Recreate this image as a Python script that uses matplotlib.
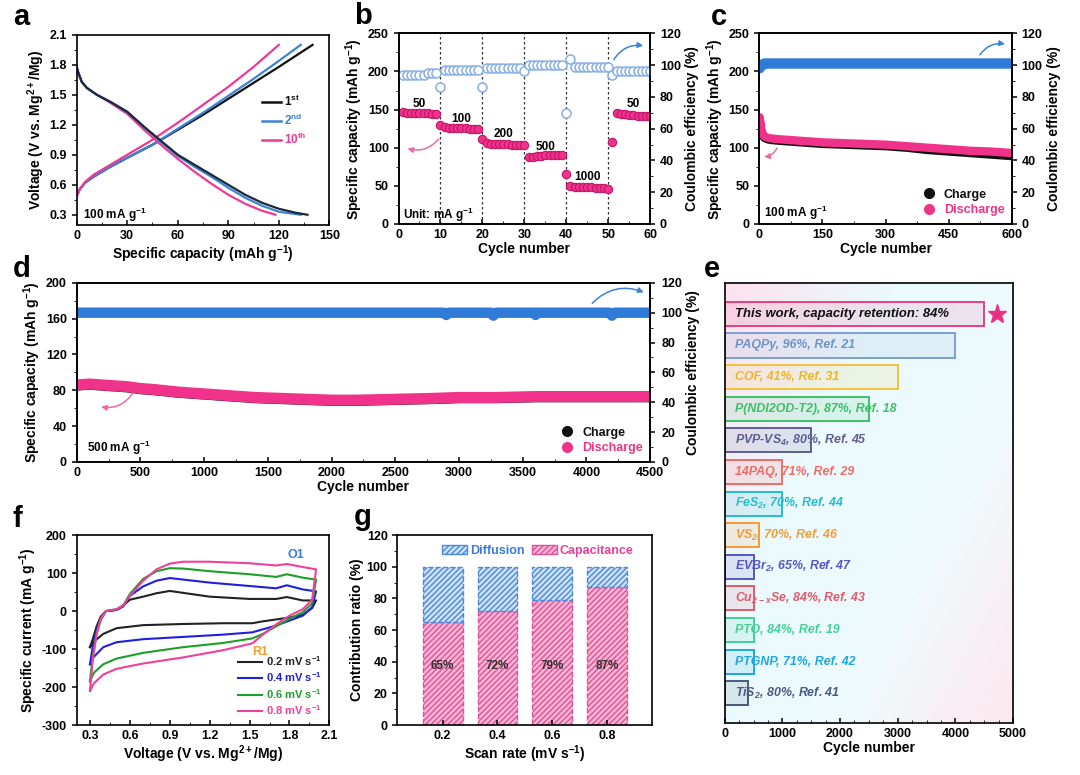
import numpy as np
import matplotlib
matplotlib.use('Agg')
import matplotlib.pyplot as plt
from matplotlib.colors import LinearSegmentedColormap
from matplotlib.lines import Line2D
from matplotlib.patches import Patch
from matplotlib.ticker import AutoMinorLocator

plt.rcParams['font.family'] = ['Liberation Sans', 'DejaVu Sans']
plt.rcParams['font.weight'] = 'bold'
plt.rcParams['axes.labelweight'] = 'bold'
plt.rcParams['mathtext.default'] = 'regular'
plt.rcParams['axes.unicode_minus'] = False
plt.rcParams['axes.linewidth'] = 1.2
plt.rcParams['xtick.labelsize'] = 9
plt.rcParams['ytick.labelsize'] = 9
plt.rcParams['axes.labelsize'] = 10
plt.rcParams['xtick.direction'] = 'in'
plt.rcParams['ytick.direction'] = 'out'
plt.rcParams['xtick.major.width'] = 1.1
plt.rcParams['ytick.major.width'] = 1.1
plt.rcParams['xtick.major.size'] = 3.5
plt.rcParams['ytick.major.size'] = 3.5
plt.rcParams['xtick.minor.size'] = 2
plt.rcParams['ytick.minor.size'] = 2

PINK = '#f0328a'
BLUE = '#2f7bd8'

# ---------- a: galvanostatic curves ----------
cap_chg_1 = [0, 2, 5, 10, 20, 30, 45, 60, 75, 90, 105, 120, 140]
v_chg_1 = [0.50, 0.56, 0.62, 0.68, 0.78, 0.87, 1.00, 1.15, 1.30, 1.46, 1.62, 1.78, 2.00]
cap_chg_2 = [0, 2, 5, 10, 20, 30, 45, 60, 75, 90, 105, 120, 133]
v_chg_2 = [0.50, 0.56, 0.62, 0.68, 0.78, 0.87, 1.00, 1.16, 1.32, 1.49, 1.66, 1.84, 2.00]
cap_chg_10 = [0, 2, 5, 10, 20, 30, 44, 60, 75, 90, 105, 120]
v_chg_10 = [0.48, 0.56, 0.63, 0.70, 0.80, 0.90, 1.04, 1.22, 1.40, 1.58, 1.78, 2.00]
cap_dis_1 = [0, 1, 3, 6, 12, 20, 30, 40, 50, 60, 70, 80, 90, 100, 110, 120, 130, 137]
v_dis_1 = [1.78, 1.72, 1.63, 1.57, 1.50, 1.43, 1.33, 1.18, 1.04, 0.90, 0.80, 0.70, 0.60, 0.50, 0.42, 0.36, 0.32, 0.30]
cap_dis_2 = [0, 1, 3, 6, 12, 20, 30, 40, 50, 60, 70, 80, 90, 100, 110, 120, 133]
v_dis_2 = [1.78, 1.72, 1.63, 1.57, 1.50, 1.43, 1.33, 1.18, 1.03, 0.89, 0.78, 0.68, 0.57, 0.47, 0.39, 0.33, 0.30]
cap_dis_10 = [0, 1, 3, 6, 12, 20, 30, 40, 50, 60, 70, 80, 90, 100, 110, 118]
v_dis_10 = [1.78, 1.72, 1.63, 1.57, 1.50, 1.42, 1.31, 1.15, 1.00, 0.86, 0.73, 0.61, 0.50, 0.41, 0.34, 0.30]

# ---------- b: rate performance ----------
cycles_b = list(range(1, 61))
cap_b = [147, 146, 146, 145, 145, 145, 145, 144, 144, 130,
         127, 126, 126, 126, 126, 126, 125, 125, 125, 112,
         106, 105, 105, 105, 105, 105, 104, 104, 104, 103,
         88, 88, 89, 89, 90, 90, 90, 91, 91, 65,
         50, 49, 49, 48, 48, 48, 47, 47, 47, 46,
         107, 145, 144, 144, 143, 143, 142, 142, 141, 141]
ce_b = [94, 94, 94, 94, 94, 94, 95, 95, 95, 86,
        97, 97, 97, 97, 97, 97, 97, 97, 97, 86,
        98, 98, 98, 98, 98, 98, 98, 98, 98, 96,
        100, 100, 100, 100, 100, 100, 100, 100, 100, 70,
        104, 99, 99, 99, 99, 99, 99, 99, 99, 99,
        94, 96, 96, 96, 96, 96, 96, 96, 96, 96]
rate_labels = ['50', '100', '200', '500', '1000', '50']
rate_label_x = [5, 15, 25, 35, 45, 56]
rate_label_y = [157, 138, 118, 101, 61, 157]

# ---------- c: cycling at 100 mA/g ----------
cycles_c = [1, 3, 5, 8, 12, 20, 30, 50, 75, 100, 150, 200, 250, 300, 350, 400, 450, 500, 550, 600]
dis_c = [140, 132, 124, 118, 115, 113, 112, 111, 110, 109, 107, 106, 105, 104, 102, 100, 98, 96, 95, 93]
chg_c = [137, 129, 121, 116, 113, 111, 110, 109, 108, 107, 105, 104, 103, 102, 100, 97, 95, 93, 91, 89]
ce_c = [98, 99, 100, 100, 101, 101, 101, 101, 101, 101, 101, 101, 101, 101, 101, 101, 101, 101, 101, 101]

# ---------- d: cycling at 500 mA/g ----------
cycles_d = [1, 100, 200, 300, 400, 500, 600, 800, 1000, 1200, 1400, 1600, 1800, 2000,
            2200, 2500, 2800, 3000, 3300, 3600, 4000, 4300, 4500]
dis_d = [86, 87, 86, 85, 84, 82, 81, 78, 76, 74, 72, 71, 70, 69, 69, 70, 71, 72, 72, 73, 73, 73, 73]
chg_d = [85, 86, 85, 84, 83, 81, 80, 77, 75, 73, 71, 70, 69, 68, 68, 69, 70, 71, 71, 72, 72, 72, 72]
cycles_ce_d = [1, 500, 1000, 1500, 2000, 2500, 2880, 2900, 2920, 3000, 3250, 3270, 3290, 3500,
               3590, 3600, 3610, 4000, 4180, 4200, 4220, 4500]
ce_d = [100, 100, 100, 100, 100, 100, 100, 98.5, 100, 100, 100, 98, 100, 100,
        100, 98.5, 100, 100, 100, 98, 100, 100]

# ---------- e: comparison ----------
e_labels = ['This work, capacity retention: 84%', 'PAQPy, 96%, Ref. 21', 'COF, 41%, Ref. 31',
            'P(NDI2OD-T2), 87%, Ref. 18', 'PVP-VS$_4$, 80%, Ref. 45', '14PAQ, 71%, Ref. 29',
            'FeS$_2$, 70%, Ref. 44', 'VS$_2$, 70%, Ref. 46', 'EVBr$_2$, 65%, Ref. 47',
            'Cu$_{2-x}$Se, 84%, Ref. 43', 'PTO, 84%, Ref. 19', 'PTGNP, 71%, Ref. 42',
            'TiS$_2$, 80%, Ref. 41']
e_cycles = [4500, 4000, 3000, 2500, 1500, 1000, 1000, 600, 500, 500, 500, 500, 400]
e_colors = ['#e8407f', '#7d9fd0', '#f5c23c', '#3fbf6a', '#5e5e90', '#f06a6a', '#25bccc',
            '#f59a35', '#5656c4', '#e05a6c', '#45d09a', '#1ea6e0', '#4a5a80']
e_text_colors = ['#111111', '#6f95c8', '#f0b428', '#3fbf6a', '#5e5e90', '#f06a6a', '#25bccc',
                 '#f59a35', '#5656c4', '#e05a6c', '#45d09a', '#1ea6e0', '#4a5a80']

# ---------- f: CV ----------
v_up = [0.30, 0.32, 0.35, 0.38, 0.42, 0.50, 0.55, 0.60, 0.70, 0.80, 0.90, 1.00, 1.20, 1.50, 1.70, 1.78, 1.90, 2.00]
v_down = [2.00, 1.97, 1.90, 1.80, 1.70, 1.60, 1.52, 1.30, 1.00, 0.70, 0.50, 0.40, 0.33, 0.30]
i_up_02 = [-95, -75, -40, -15, 0, 3, 15, 30, 38, 47, 53, 48, 38, 32, 32, 37, 28, 28]
i_dn_02 = [28, 8, -10, -17, -22, -27, -32, -32, -34, -37, -45, -60, -80, -95]
i_up_04 = [-140, -95, -50, -20, 0, 3, 12, 40, 65, 80, 87, 83, 75, 66, 60, 68, 57, 52]
i_dn_04 = [52, 10, -12, -25, -38, -48, -56, -62, -68, -74, -82, -95, -120, -140]
i_up_06 = [-185, -120, -60, -25, 0, 5, 15, 45, 85, 105, 113, 112, 105, 97, 90, 97, 88, 83]
i_dn_06 = [83, 20, -3, -20, -40, -60, -72, -84, -95, -110, -125, -140, -162, -185]
i_up_08 = [-210, -130, -60, -20, 0, 5, 15, 40, 80, 110, 125, 130, 130, 126, 120, 124, 116, 110]
i_dn_08 = [110, 30, 5, -12, -35, -62, -85, -103, -122, -138, -152, -167, -190, -210]
cv_labels = ['0.2 mV s$^{-1}$', '0.4 mV s$^{-1}$', '0.6 mV s$^{-1}$', '0.8 mV s$^{-1}$']
cv_colors = ['#222222', '#1f1fe0', '#1e9e2a', '#f0409a']

# ---------- g: contribution ----------
scan_rates = [0.2, 0.4, 0.6, 0.8]
capacitance = [65, 72, 79, 87]
diffusion = [35, 28, 21, 13]


def style_axes(ax):
    ax.xaxis.set_minor_locator(AutoMinorLocator(2))
    ax.yaxis.set_minor_locator(AutoMinorLocator(2))
    for lab in ax.get_xticklabels() + ax.get_yticklabels():
        lab.set_fontweight('bold')


def arrow(ax, xy, xytext, color):
    ax.annotate('', xy=xy, xytext=xytext,
                arrowprops=dict(arrowstyle='-|>', color=color, lw=1.1,
                                connectionstyle='arc3,rad=-0.35', mutation_scale=8))


def charge_legend(ax):
    handles = [Line2D([], [], ls='', marker='o', ms=7, color='#111111'),
               Line2D([], [], ls='', marker='o', ms=7, color=PINK)]
    leg = ax.legend(handles, ['Charge', 'Discharge'], loc='lower right', frameon=False,
                    fontsize=9, handletextpad=0.2, labelspacing=0.3, borderaxespad=0.2)
    for t, c in zip(leg.get_texts(), ['#111111', PINK]):
        t.set_color(c)


fig = plt.figure(figsize=(10.8, 7.75), dpi=100)

# panel a
ax = fig.add_axes([0.071, 0.710, 0.234, 0.245])
ax.plot(cap_chg_1, v_chg_1, color='#111111', lw=1.6)
ax.plot(cap_chg_2, v_chg_2, color='#3b83d6', lw=1.6)
ax.plot(cap_chg_10, v_chg_10, color='#ec3a95', lw=1.6)
ax.plot(cap_dis_10, v_dis_10, color='#ec3a95', lw=1.6)
ax.plot(cap_dis_2, v_dis_2, color='#3b83d6', lw=1.6)
ax.plot(cap_dis_1, v_dis_1, color='#1a2a3a', lw=1.6)
ax.set_xlim(0, 150)
ax.set_ylim(0.2, 2.1)
ax.set_xticks(np.arange(0, 151, 30))
ax.set_yticks([0.3, 0.6, 0.9, 1.2, 1.5, 1.8, 2.1])
ax.set_xlabel('Specific capacity (mAh g$^{-1}$)', labelpad=1)
ax.set_ylabel('Voltage (V vs. Mg$^{2+}$/Mg)', labelpad=2)
ax.text(4, 0.3, '100 mA g$^{-1}$', fontsize=8.5, va='center')
handles = [Line2D([], [], color=c, lw=1.8) for c in ['#111111', '#3b83d6', '#ec3a95']]
leg = ax.legend(handles, ['1$^{st}$', '2$^{nd}$', '10$^{th}$'], loc='center left',
                bbox_to_anchor=(0.69, 0.55), frameon=False, fontsize=8.5,
                handlelength=1.6, handletextpad=0.3, labelspacing=0.3)
for t, c in zip(leg.get_texts(), ['#111111', '#3b83d6', '#ec3a95']):
    t.set_color(c)
style_axes(ax)

# panel b
ax = fig.add_axes([0.369, 0.711, 0.233, 0.246])
ax2 = ax.twinx()
for xv in [10, 20, 30, 40, 50]:
    ax.axvline(xv, color='#333333', ls=(0, (2, 2)), lw=0.9, zorder=1)
ax.plot(cycles_b, cap_b, 'o', ms=6, mfc=PINK, mec='#c2156a', mew=0.8, zorder=3)
ax2.plot(cycles_b, ce_b, 'o', ms=6.5, mfc='white', mec='#86aee6', mew=1.1)
for lab, xv, yv in zip(rate_labels, rate_label_x, rate_label_y):
    ax.text(xv, yv, lab, fontsize=8.5, ha='center', va='center')
ax.text(1, 12, 'Unit: mA g$^{-1}$', fontsize=8.5, va='center')
arrow(ax, (1.5, 100), (10, 114), '#ee6aa6')
arrow(ax2, (59, 112), (51, 102), '#3b83d6')
ax.set_xlim(0, 60)
ax.set_ylim(0, 250)
ax2.set_ylim(0, 120)
ax.set_xticks(np.arange(0, 61, 10))
ax.set_yticks(np.arange(0, 251, 50))
ax2.set_yticks(np.arange(0, 121, 20))
ax.set_xlabel('Cycle number', labelpad=1)
ax.set_ylabel('Specific capacity (mAh g$^{-1}$)', labelpad=2)
ax2.set_ylabel('Coulombic efficiency (%)', labelpad=3)
ax2.tick_params(axis='y', direction='out')
style_axes(ax)
style_axes(ax2)

# panel c
ax = fig.add_axes([0.703, 0.711, 0.234, 0.246])
ax2 = ax.twinx()
ax.plot(cycles_c, chg_c, color='#111111', lw=6, solid_capstyle='round', zorder=2)
ax.plot(cycles_c, dis_c, color=PINK, lw=6, solid_capstyle='round', zorder=3)
ax2.plot(cycles_c, ce_c, color=BLUE, lw=7.5, solid_capstyle='round')
ax.text(12, 15, '100 mA g$^{-1}$', fontsize=8.5, va='center')
arrow(ax, (5, 88), (45, 103), '#ee6aa6')
arrow(ax2, (590, 113), (520, 105), '#3b83d6')
charge_legend(ax)
ax.set_xlim(0, 600)
ax.set_ylim(0, 250)
ax2.set_ylim(0, 120)
ax.set_xticks(np.arange(0, 601, 150))
ax.set_yticks(np.arange(0, 251, 50))
ax2.set_yticks(np.arange(0, 121, 20))
ax.set_xlabel('Cycle number', labelpad=1)
ax.set_ylabel('Specific capacity (mAh g$^{-1}$)', labelpad=2)
ax2.set_ylabel('Coulombic efficiency (%)', labelpad=3)
ax2.tick_params(axis='y', direction='out')
style_axes(ax)
style_axes(ax2)

# panel d
ax = fig.add_axes([0.071, 0.404, 0.531, 0.231])
ax2 = ax.twinx()
ax.plot(cycles_d, chg_d, color='#111111', lw=7, solid_capstyle='round', zorder=2)
ax.plot(cycles_d, dis_d, color=PINK, lw=8, solid_capstyle='round', zorder=3)
ax2.plot(cycles_ce_d, ce_d, color=BLUE, lw=7.5, solid_capstyle='butt')
ax.text(80, 16, '500 mA g$^{-1}$', fontsize=8.5, va='center')
arrow(ax, (170, 62), (450, 79), '#ee6aa6')
arrow(ax2, (4470, 113), (4030, 105), '#3b83d6')
charge_legend(ax)
ax.set_xlim(0, 4500)
ax.set_ylim(0, 200)
ax2.set_ylim(0, 120)
ax.set_xticks(np.arange(0, 4501, 500))
ax.set_yticks(np.arange(0, 201, 40))
ax2.set_yticks(np.arange(0, 121, 20))
ax.set_xlabel('Cycle number', labelpad=1)
ax.set_ylabel('Specific capacity (mAh g$^{-1}$)', labelpad=2)
ax2.set_ylabel('Coulombic efficiency (%)', labelpad=3)
ax2.tick_params(axis='y', direction='out', pad=4.5)
style_axes(ax)
style_axes(ax2)

# panel e
ax = fig.add_axes([0.671, 0.067, 0.267, 0.568])
n = len(e_labels)
fundo = LinearSegmentedColormap.from_list('fundo', ['#fde2ee', '#eafafd', '#effbfd', '#fde8ef'])
gx, gy = np.meshgrid(np.linspace(0, 1, 60), np.linspace(0, 1, 60))
ax.imshow(gx * 0.55 + gy * 0.45, cmap=fundo, aspect='auto', zorder=0,
          extent=[0, 5000, n - 0.06, -0.98], interpolation='bilinear')
pos = np.arange(n)
for i in range(n):
    ax.barh(pos[i], e_cycles[i], height=0.76, left=0, color=e_colors[i], alpha=0.12, zorder=1)
    ax.barh(pos[i], e_cycles[i], height=0.76, left=0, facecolor='none',
            edgecolor=e_colors[i], lw=1.4, zorder=2)
    tam = 9.4 if i == 0 else 8.9
    ax.text(180, pos[i], e_labels[i], color=e_text_colors[i], fontsize=tam,
            fontstyle='italic', fontweight='bold', va='center', zorder=3)
ax.plot(4730, 0, marker='*', ms=14, color='#ec2f86', clip_on=False, zorder=4)
ax.set_xlim(0, 5000)
ax.set_ylim(n - 0.06, -0.98)
ax.set_yticks([])
ax.set_xticks(np.arange(0, 5001, 1000))
ax.xaxis.set_minor_locator(AutoMinorLocator(4))
ax.set_xlabel('Cycle number', labelpad=1)
for lab in ax.get_xticklabels():
    lab.set_fontweight('bold')

# panel f
ax = fig.add_axes([0.071, 0.0645, 0.234, 0.245])
loops = [(i_up_02, i_dn_02), (i_up_04, i_dn_04), (i_up_06, i_dn_06), (i_up_08, i_dn_08)]
for (iu, idn), c, lab in zip(loops, cv_colors, cv_labels):
    ax.plot(v_up + v_down, iu + idn, color=c, lw=1.5, label=lab)
ax.text(1.85, 148, 'O1', color='#3a7ad8', fontsize=9, ha='center', va='center')
ax.text(1.58, -107, 'R1', color='#f0a030', fontsize=9, ha='center', va='center')
leg = ax.legend(loc='lower right', frameon=False, fontsize=8, handlelength=2.2,
                handletextpad=0.3, labelspacing=0.25, borderaxespad=0.3)
for t, c in zip(leg.get_texts(), cv_colors):
    t.set_color(c)
ax.set_xlim(0.2, 2.1)
ax.set_ylim(-300, 200)
ax.set_xticks([0.3, 0.6, 0.9, 1.2, 1.5, 1.8, 2.1])
ax.set_yticks(np.arange(-300, 201, 100))
ax.set_xlabel('Voltage (V vs. Mg$^{2+}$/Mg)', labelpad=1)
ax.set_ylabel('Specific current (mA g$^{-1}$)', labelpad=2)
style_axes(ax)

# panel g
ax = fig.add_axes([0.368, 0.0645, 0.236, 0.245])
ax.bar(scan_rates, capacitance, width=0.145, color='#f8b6d4', edgecolor='#e2509a',
       hatch='//////', lw=1.0, ls='--', label='Capacitance')
ax.bar(scan_rates, diffusion, width=0.145, bottom=capacitance, color='#cfe0f6',
       edgecolor='#4a8ad8', hatch='//////', lw=1.0, ls='--', label='Diffusion')
for xv, val in zip(scan_rates, capacitance):
    ax.text(xv, 37, f'{val}%', fontsize=8.5, ha='center', va='center', color='#333333')
handles = [Patch(facecolor='#cfe0f6', edgecolor='#4a8ad8', hatch='//////', lw=1.0),
           Patch(facecolor='#f8b6d4', edgecolor='#e2509a', hatch='//////', lw=1.0)]
leg = ax.legend(handles, ['Diffusion', 'Capacitance'], loc='upper center', ncol=2,
                frameon=False, fontsize=9, handlelength=2.0, handletextpad=0.2,
                columnspacing=0.6, borderaxespad=0.4, bbox_to_anchor=(0.55, 1.0))
for t, c in zip(leg.get_texts(), ['#3a7ad8', '#e8409a']):
    t.set_color(c)
ax.set_xlim(0.035, 0.965)
ax.set_ylim(0, 120)
ax.set_xticks(scan_rates)
ax.set_yticks(np.arange(0, 121, 20))
ax.set_xlabel('Scan rate (mV s$^{-1}$)', labelpad=1)
ax.set_ylabel('Contribution ratio (%)', labelpad=2)
ax.yaxis.set_minor_locator(AutoMinorLocator(2))
for lab in ax.get_xticklabels() + ax.get_yticklabels():
    lab.set_fontweight('bold')

# panel letters
for letra, x, y in [('a', 0.012, 0.978), ('b', 0.328, 0.980), ('c', 0.658, 0.978),
                    ('d', 0.012, 0.653), ('e', 0.652, 0.653),
                    ('f', 0.012, 0.330), ('g', 0.328, 0.333)]:
    fig.text(x, y, letra, fontsize=21, fontweight='bold', va='center', ha='left')

fig.savefig('out.png', dpi=100)
